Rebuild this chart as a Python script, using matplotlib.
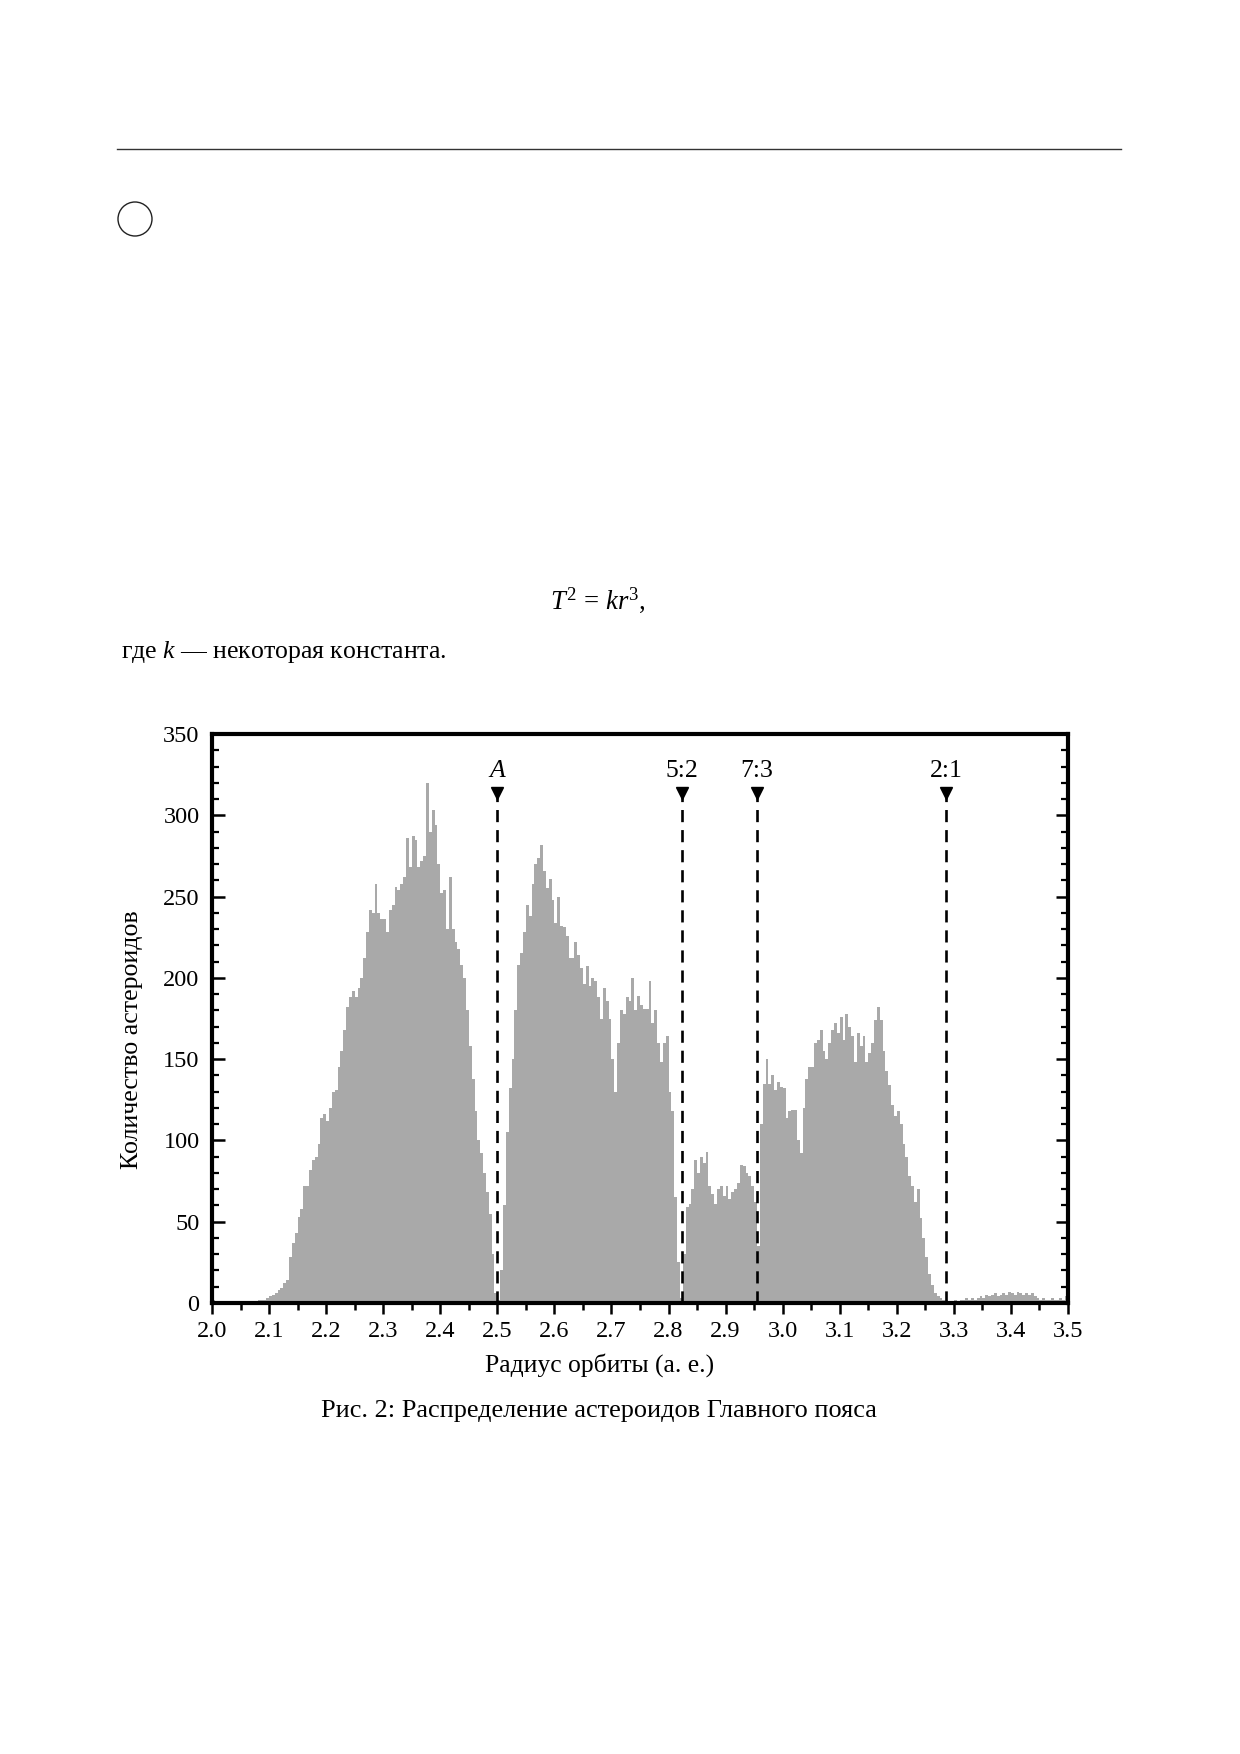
import numpy as np
import matplotlib
matplotlib.use("Agg")
import matplotlib.pyplot as plt
from matplotlib.ticker import MultipleLocator, FormatStrFormatter
from matplotlib.patches import Ellipse
from matplotlib.lines import Line2D

# ---------------- data ----------------
radius_start = 2.0      # a.u.
bin_width = 0.005       # a.u.
counts = [
    # 2.0 - 2.1
    2, 1, 1, 1, 1, 1, 1, 1, 1, 1, 1, 1, 1, 1, 1, 1, 2, 2, 2, 3,
    # 2.1 - 2.2
    4, 5, 6, 8, 9, 12, 14, 28, 37, 43, 53, 58, 72, 72, 82, 88, 90, 98, 114, 116,
    # 2.2 - 2.3
    112, 120, 130, 131, 145, 155, 168, 182, 188, 192, 188, 194, 200, 212, 228, 242, 240, 258, 240, 236,
    # 2.3 - 2.4
    236, 228, 242, 245, 256, 254, 258, 262, 286, 268, 287, 285, 268, 272, 275, 320, 290, 303, 294, 270,
    # 2.4 - 2.5
    252, 254, 230, 262, 230, 222, 218, 208, 200, 180, 158, 138, 118, 100, 92, 80, 68, 55, 30, 6,
    # 2.5 - 2.6
    2, 20, 60, 105, 132, 150, 180, 208, 215, 228, 245, 238, 258, 270, 274, 282, 266, 255, 261, 248,
    # 2.6 - 2.7
    234, 250, 232, 231, 226, 212, 212, 222, 214, 206, 196, 207, 195, 200, 198, 188, 175, 194, 186, 175,
    # 2.7 - 2.8
    150, 130, 160, 180, 178, 188, 186, 200, 180, 189, 183, 181, 181, 198, 172, 180, 160, 148, 160, 164,
    # 2.8 - 2.9
    130, 118, 65, 25, 3, 30, 59, 61, 70, 88, 80, 90, 86, 93, 72, 67, 61, 70, 72, 66,
    # 2.9 - 3.0
    72, 64, 68, 70, 74, 85, 84, 80, 78, 72, 62, 35, 110, 135, 150, 135, 140, 131, 136, 133,
    # 3.0 - 3.1
    132, 114, 118, 119, 119, 100, 92, 120, 138, 145, 145, 160, 162, 168, 155, 150, 160, 168, 172, 166,
    # 3.1 - 3.2
    176, 162, 178, 170, 164, 148, 166, 158, 164, 148, 154, 160, 174, 182, 174, 155, 143, 134, 122, 115,
    # 3.2 - 3.3
    118, 110, 98, 90, 78, 72, 62, 70, 52, 40, 28, 18, 11, 6, 4, 3, 2, 2, 1, 1,
    # 3.3 - 3.4
    2, 1, 2, 2, 3, 2, 3, 2, 3, 4, 3, 5, 4, 5, 6, 4, 5, 6, 5, 7,
    # 3.4 - 3.5
    6, 5, 7, 6, 5, 6, 5, 6, 4, 3, 2, 3, 2, 2, 3, 2, 2, 3, 2, 4,
]

gap_names = ["A", "5:2", "7:3", "2:1"]
gap_radii = [2.500, 2.823, 2.955, 3.287]
marker_level = 314
label_level = 327

x_ticks = [2.0, 2.1, 2.2, 2.3, 2.4, 2.5, 2.6, 2.7, 2.8, 2.9, 3.0, 3.1, 3.2, 3.3, 3.4, 3.5]
y_ticks = [0, 50, 100, 150, 200, 250, 300, 350]

xlabel = "Радиус орбиты (а. е.)"
ylabel = "Количество астероидов"
caption = "Рис. 2: Распределение астероидов Главного пояса"
body_text = "где $k$ — некоторая константа."
equation = r"$T^{2}\,=\,kr^{3}$,"

# ---------------- style ----------------
plt.rcParams["font.family"] = ["Liberation Serif", "DejaVu Serif"]
plt.rcParams["mathtext.fontset"] = "custom"
plt.rcParams["mathtext.it"] = "Liberation Serif:italic"
plt.rcParams["mathtext.rm"] = "Liberation Serif"

W, H = 1240, 1754
fig = plt.figure(figsize=(W / 100, H / 100), dpi=100)
fig.patch.set_facecolor("white")

ax_l, ax_r, ax_t, ax_b = 212, 1068, 734, 1303
ax = fig.add_axes([ax_l / W, 1 - ax_b / H, (ax_r - ax_l) / W, (ax_b - ax_t) / H])

edges = radius_start + bin_width * np.arange(len(counts) + 1)
ax.stairs(counts, edges, fill=True, color="#a9a9a9", linewidth=0, zorder=1)

for name, r in zip(gap_names, gap_radii):
    ax.plot([r, r], [0, marker_level - 2], color="black", lw=1.9,
            dashes=(4.6, 3.0), zorder=3)
    ax.plot([r], [marker_level], marker="v", color="black", ms=9, zorder=4, clip_on=False)
    ax.text(r, label_level, name, ha="center", va="center", fontsize=18.5,
            style="italic" if name == "A" else "normal", zorder=4)

ax.set_xlim(2.0, 3.5)
ax.set_ylim(0, 350)
ax.set_xticks(x_ticks)
ax.set_yticks(y_ticks)
ax.xaxis.set_major_formatter(FormatStrFormatter("%.1f"))
ax.xaxis.set_minor_locator(MultipleLocator(0.05))
ax.yaxis.set_minor_locator(MultipleLocator(10))

for s in ax.spines.values():
    s.set_linewidth(3.0)

ax.tick_params(axis="x", which="both", direction="out", top=False, bottom=True,
               labelsize=17.5, pad=5)
ax.tick_params(axis="x", which="major", length=8, width=1.8)
ax.tick_params(axis="x", which="minor", length=5, width=1.8)
ax.tick_params(axis="y", which="both", direction="in", left=True, right=True,
               labelsize=17.5, pad=9)
ax.tick_params(axis="y", which="major", length=9, width=1.8)
ax.tick_params(axis="y", which="minor", length=5, width=1.6)

xl = ax.set_xlabel(xlabel, fontsize=18, va="center")
ax.xaxis.set_label_coords((600 - ax_l) / (ax_r - ax_l), (ax_b - 1365) / (ax_b - ax_t))
yl = ax.set_ylabel(ylabel, fontsize=18, va="center")
ax.yaxis.set_label_coords((132 - ax_l) / (ax_r - ax_l), (ax_b - 1040) / (ax_b - ax_t))

# ---------------- page elements ----------------
fig.add_artist(Line2D([117 / W, 1121 / W], [1 - 149 / H, 1 - 149 / H],
                      color="#333333", lw=1.0, transform=fig.transFigure))
fig.add_artist(Ellipse((135 / W, 1 - 219 / H), 34 / W, 34 / H, fill=False,
                       edgecolor="#222222", lw=1.0, transform=fig.transFigure))

t_eq = fig.text(598 / W, 1 - 600 / H, equation, ha="center", va="center", fontsize=18)
t_body = fig.text(121 / W, 1 - 652 / H, body_text, ha="left", va="center", fontsize=19)
t_cap = fig.text(599 / W, 1 - 1411 / H, caption, ha="center", va="center", fontsize=19)

# fit text widths to the reference
fig.canvas.draw()
renderer = fig.canvas.get_renderer()
def fit(t, target, vertical=False):
    bb = t.get_window_extent(renderer)
    size = bb.height if vertical else bb.width
    t.set_fontsize(t.get_fontsize() * target / size)

fit(t_cap, 557)
fit(t_body, 326)
fit(t_eq, 96)
fit(xl, 229)
fit(yl, 259, vertical=True)

fig.savefig("out.png", dpi=100, facecolor="white")
